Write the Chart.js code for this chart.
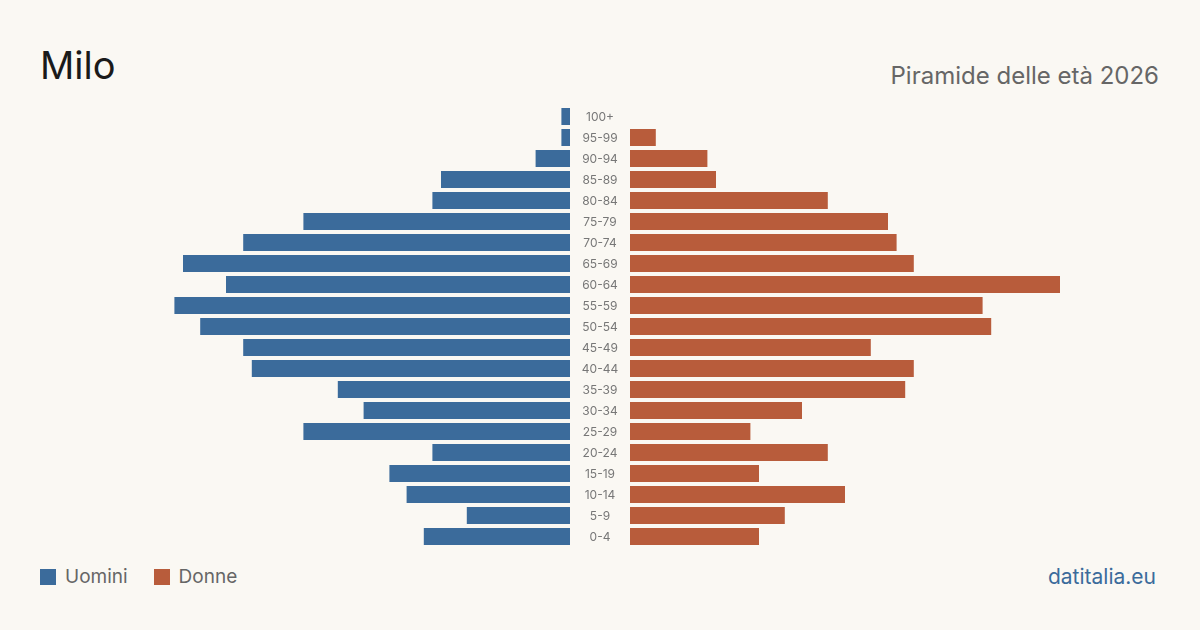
<!DOCTYPE html>
<html lang="it">
<head>
    <meta charset="UTF-8">
    <title>Milo - Piramide delle età 2026</title>
    <style>
        body {
            margin: 0;
            width: 1200px;
            height: 630px;
            background-color: #faf8f3;
            font-family: 'Inter', sans-serif;
            position: relative;
            overflow: hidden;
        }

        .title {
            position: absolute;
            left: 40px;
            top: 46px;
            font-size: 38px;
            line-height: 1;
            color: #1a1a1a;
        }

        .subtitle {
            position: absolute;
            right: 41px;
            top: 64px;
            font-size: 24px;
            line-height: 1;
            color: #666;
        }

        .legend {
            position: absolute;
            left: 40px;
            top: 567px;
            font-size: 19px;
            line-height: 1;
            color: #666;
            display: flex;
            align-items: center;
        }

        .legend .box {
            width: 16px;
            height: 16px;
            display: inline-block;
            margin-right: 9px;
        }

        .legend .item {
            display: flex;
            align-items: center;
            margin-right: 26px;
        }

        .source {
            position: absolute;
            right: 44px;
            top: 566px;
            font-size: 21px;
            line-height: 1;
            color: #3b6b9b;
        }

        #leftWrap { position: absolute; left: 140px; top: 106px; width: 430px; height: 441px; }
        #rightWrap { position: absolute; left: 570px; top: 106px; width: 490px; height: 441px; }
    </style>
</head>
<body>
    <div class="title">Milo</div>
    <div class="subtitle">Piramide delle età 2026</div>

    <div id="leftWrap"><canvas id="menChart"></canvas></div>
    <div id="rightWrap"><canvas id="womenChart"></canvas></div>

    <div class="legend">
        <div class="item"><span class="box" style="background:#3b6b9b"></span>Uomini</div>
        <div class="item"><span class="box" style="background:#b85c3b"></span>Donne</div>
    </div>
    <div class="source">datitalia.eu</div>

    <script src="https://cdn.jsdelivr.net/npm/chart.js"></script>
    <script>
        // fasce d'età dal basso verso l'alto
        const ageGroups = ['0-4', '5-9', '10-14', '15-19', '20-24', '25-29', '30-34', '35-39', '40-44', '45-49',
                           '50-54', '55-59', '60-64', '65-69', '70-74', '75-79', '80-84', '85-89', '90-94', '95-99', '100+'];
        const men   = [17, 12, 19, 21, 16, 31, 24, 27, 37, 38, 43, 46, 40, 45, 38, 31, 16, 15, 4, 1, 1];
        const women = [15, 18, 25, 15, 23, 14, 20, 32, 33, 28, 42, 41, 50, 33, 31, 30, 23, 10, 9, 3, 0];
        const axisMax = 50;

        const blue = '#3b6b9b';
        const orange = '#b85c3b';
        const gap = 60; // spazio centrale per le etichette

        Chart.defaults.font.family = 'Inter, sans-serif';
        Chart.defaults.animation = false;

        const commonPlugins = {
            legend: { display: false },
            tooltip: { enabled: false }
        };

        // etichette delle fasce d'età al centro, sulla scala y del grafico destro
        const ageLabels = {
            id: 'ageLabels',
            afterDraw(chart) {
                const ctx = chart.ctx;
                const yScale = chart.scales.y;
                const x = chart.chartArea.left - gap / 2;
                ctx.save();
                ctx.font = '12px Inter, sans-serif';
                ctx.fillStyle = '#777';
                ctx.textAlign = 'center';
                ctx.textBaseline = 'middle';
                ageGroups.forEach((label, i) => {
                    ctx.fillText(label, x, yScale.getPixelForValue(i) + 0.5);
                });
                ctx.restore();
            }
        };

        new Chart(document.getElementById('menChart'), {
            type: 'bar',
            data: {
                labels: ageGroups,
                datasets: [{
                    label: 'Uomini',
                    data: men,
                    backgroundColor: blue,
                    categoryPercentage: 1,
                    barPercentage: 17 / 21
                }]
            },
            options: {
                indexAxis: 'y',
                responsive: true,
                maintainAspectRatio: false,
                layout: { padding: 0 },
                plugins: commonPlugins,
                scales: {
                    x: { min: 0, max: axisMax, reverse: true, display: false },
                    y: { reverse: true, display: false }
                }
            }
        });

        new Chart(document.getElementById('womenChart'), {
            type: 'bar',
            data: {
                labels: ageGroups,
                datasets: [{
                    label: 'Donne',
                    data: women,
                    backgroundColor: orange,
                    categoryPercentage: 1,
                    barPercentage: 17 / 21
                }]
            },
            options: {
                indexAxis: 'y',
                responsive: true,
                maintainAspectRatio: false,
                layout: { padding: { left: gap } },
                plugins: commonPlugins,
                scales: {
                    x: { min: 0, max: axisMax, display: false },
                    y: { reverse: true, display: false }
                }
            },
            plugins: [ageLabels]
        });
    </script>
</body>
</html>
